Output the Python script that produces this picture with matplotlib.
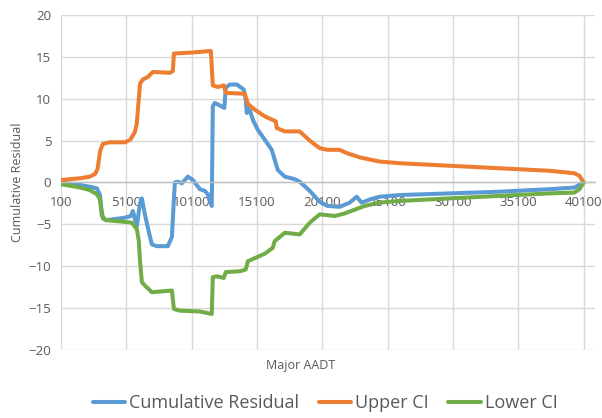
import matplotlib
matplotlib.use("Agg")
import matplotlib.pyplot as plt

# Major AADT (x) and cumulative residual values
resid_x = [100, 1550, 2300, 2850, 3080, 3200, 3310, 3550, 4990, 5450, 5600, 5750,
           5910, 6140, 6290, 6520, 6900, 7060, 7440, 8280, 8590, 8740, 8820, 9050,
           9350, 9810, 10190, 10730, 11110, 11340, 11640, 11720, 11870, 12260, 12600,
           12710, 13020, 13560, 14090, 14240, 14320, 14470, 14780, 15160, 15700, 16230,
           16460, 16690, 17230, 17990, 18370, 19140, 19900, 20500, 21430, 22200, 22730,
           23110, 23800, 24490, 26020, 29840, 33660, 37490, 39400, 40100]
resid_y = [0.0, -0.3, -0.5, -0.7, -1.5, -3.2, -4.3, -4.5, -4.2, -4.0, -3.4, -4.3,
           -5.2, -2.5, -1.9, -3.8, -6.4, -7.4, -7.6, -7.6, -6.5, -2.0, 0.0, 0.1,
           -0.1, 0.7, 0.3, -0.8, -1.0, -1.4, -2.8, 9.1, 9.5, 9.2, 8.9,
           11.3, 11.7, 11.7, 11.1, 9.9, 8.3, 9.1, 7.5, 6.3, 5.1, 3.9,
           2.7, 1.5, 0.7, 0.4, 0.1, -1.0, -2.3, -2.8, -2.9, -2.4, -1.7,
           -2.4, -2.0, -1.7, -1.5, -1.3, -1.1, -0.8, -0.6, 0.0]

upper_x = [100, 1550, 2300, 2700, 2900, 3100, 3300, 3800, 5000, 5400, 5750, 5900,
           6150, 6370, 6750, 7130, 8430, 8660, 8740, 9960, 11570, 11720, 12100, 12560,
           12710, 14170, 14400, 14930, 15700, 16540, 16610, 17230, 18370, 19140, 19900,
           20500, 21430, 22000, 22960, 24490, 26020, 29840, 33660, 37490, 39400, 39780,
           40100]
upper_y = [0.3, 0.5, 0.7, 1.0, 1.6, 3.8, 4.6, 4.8, 4.8, 5.1, 6.0, 7.0,
           11.8, 12.3, 12.6, 13.2, 13.1, 13.3, 15.4, 15.5, 15.7, 11.6, 11.4, 11.6,
           10.7, 10.6, 9.4, 8.7, 7.9, 7.3, 6.5, 6.1, 6.1, 5.0, 4.1,
           3.9, 3.9, 3.5, 3.0, 2.5, 2.3, 2.0, 1.7, 1.4, 1.1, 0.8,
           0.0]

lower_x = [100, 1550, 2300, 2850, 3080, 3230, 3540, 4990, 5530, 5910, 6060, 6140,
           6290, 6520, 7060, 8590, 8740, 9200, 10730, 11640, 11720, 12030, 12560, 12710,
           13790, 14240, 14400, 14700, 15700, 16310, 16460, 17230, 18370, 19140, 19900,
           21050, 21810, 23340, 24490, 26020, 29840, 33660, 37490, 39400, 39780, 40100]
lower_y = [-0.2, -0.6, -0.9, -1.4, -2.0, -4.0, -4.5, -4.7, -4.8, -5.6, -7.0, -9.2,
           -11.9, -12.3, -13.1, -12.9, -15.1, -15.3, -15.4, -15.7, -11.3, -11.2, -11.4, -10.7,
           -10.6, -10.4, -9.4, -9.2, -8.5, -7.8, -7.0, -6.0, -6.2, -4.8, -3.8,
           -4.0, -3.7, -2.8, -2.4, -2.2, -1.9, -1.6, -1.3, -1.2, -0.8, 0.0]

x_ticks = [100, 5100, 10100, 15100, 20100, 25100, 30100, 35100, 40100]
y_ticks = [-20, -15, -10, -5, 0, 5, 10, 15, 20]

plt.rcParams['font.family'] = ['Open Sans', 'DejaVu Sans']
grey = '#595959'

fig = plt.figure(figsize=(6.02, 4.18), dpi=100)
ax = fig.add_axes([0.1013, 0.1627, 0.8877, 0.8014])

ax.plot(resid_x, resid_y, color='#5B9BD5', lw=2.9, label='Cumulative Residual',
        solid_joinstyle='round', solid_capstyle='round')
ax.plot(upper_x, upper_y, color='#ED7D31', lw=2.9, label='Upper CI',
        solid_joinstyle='round', solid_capstyle='round')
ax.plot(lower_x, lower_y, color='#70AD47', lw=2.9, label='Lower CI',
        solid_joinstyle='round', solid_capstyle='round')

ax.set_xlim(100, 41000)
ax.set_ylim(-20, 20)
ax.set_xticks(x_ticks)
ax.set_yticks(y_ticks)
ax.grid(True, color='#d9d9d9', lw=1)
ax.set_axisbelow(True)

for s in ['top', 'right', 'left']:
    ax.spines[s].set_visible(False)
ax.spines['bottom'].set_position(('data', 0))
ax.spines['bottom'].set_color('#bfbfbf')
ax.spines['bottom'].set_linewidth(1)
ax.tick_params(length=0, labelsize=9.5, labelcolor=grey)
ax.tick_params(axis='x', pad=10)
ax.tick_params(axis='y', pad=7)

ax.set_ylabel('Cumulative Residual', fontsize=9, color=grey)
ax.yaxis.set_label_coords(-0.07, 0.5)
fig.text(0.5, 0.125, 'Major AADT', ha='center', va='center', fontsize=9, color=grey)

fig.legend(loc='center', bbox_to_anchor=(0.54, 0.036), ncol=3, frameon=False,
           fontsize=13, handlelength=1.8, handletextpad=0.2, columnspacing=1.1,
           labelcolor=grey)

fig.savefig('out.png', dpi=100)
